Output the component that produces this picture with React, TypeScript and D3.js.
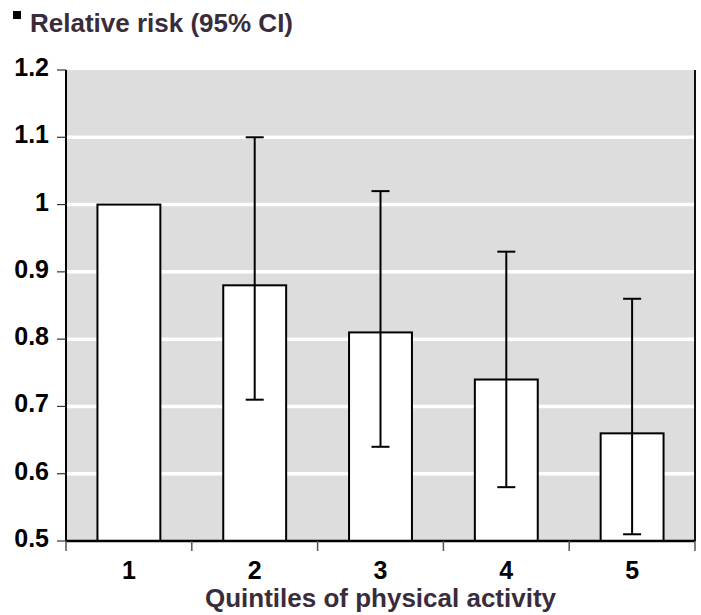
import React from "react";
import * as d3 from "d3";

const categories = ["1", "2", "3", "4", "5"];
const riskValues = [1.0, 0.88, 0.81, 0.74, 0.66];
const ciLower: (number | null)[] = [null, 0.71, 0.64, 0.58, 0.51];
const ciUpper: (number | null)[] = [null, 1.1, 1.02, 0.93, 0.86];
const yTicks = [0.5, 0.6, 0.7, 0.8, 0.9, 1, 1.1, 1.2];
const titleText = "Relative risk (95% CI)";
const xTitleText = "Quintiles of physical activity";

const W = 701;
const H = 615;
const left = 66;
const right = 695;
const top = 70;
const bottom = 541;
const FONT = "'Liberation Sans', Arial, Helvetica, sans-serif";
const TITLE_COLOR = "#3a2c3a";

export default function App() {
  const x = d3
    .scaleBand<string>()
    .domain(categories)
    .range([left, right])
    .paddingInner(0.5)
    .paddingOuter(0.25);
  const y = d3.scaleLinear().domain([0.5, 1.2]).range([bottom, top]);
  const step = x.step();
  const boundaries = categories.map((_, i) => left + step * (i + 1));
  const capW = 18;

  return (
    <svg
      width={W}
      height={H}
      style={{ position: "absolute", left: 0, top: 0, background: "#fff" }}
      fontFamily={FONT}
    >
      {/* title */}
      <rect x={13} y={11} width={8} height={8} fill="#000" />
      <text x={30} y={32} fontSize={26} fontWeight="bold" fill={TITLE_COLOR}>
        {titleText}
      </text>

      {/* plot background */}
      <rect x={left} y={top} width={right - left} height={bottom - top} fill="#dddddd" />

      {/* gridlines */}
      {yTicks
        .filter((t) => t > 0.5 && t < 1.2)
        .map((t) => (
          <line
            key={"g" + t}
            x1={left}
            x2={right}
            y1={y(t)}
            y2={y(t)}
            stroke="#fff"
            strokeWidth={3.5}
          />
        ))}

      {/* right border */}
      <line x1={right} x2={right} y1={top} y2={bottom} stroke="#111" strokeWidth={2} />

      {/* bars */}
      {categories.map((c, i) => (
        <rect
          key={"b" + c}
          x={x(c)!}
          y={y(riskValues[i])}
          width={x.bandwidth()}
          height={bottom - y(riskValues[i])}
          fill="#fff"
          stroke="#000"
          strokeWidth={2}
        />
      ))}

      {/* error bars */}
      {categories.map((c, i) => {
        const lo = ciLower[i];
        const hi = ciUpper[i];
        if (lo == null || hi == null) return null;
        const cx = x(c)! + x.bandwidth() / 2;
        return (
          <g key={"e" + c} stroke="#000" strokeWidth={2}>
            <line x1={cx} x2={cx} y1={y(hi)} y2={y(lo)} />
            <line x1={cx - capW / 2} x2={cx + capW / 2} y1={y(hi)} y2={y(hi)} />
            <line x1={cx - capW / 2} x2={cx + capW / 2} y1={y(lo)} y2={y(lo)} />
          </g>
        );
      })}

      {/* y axis */}
      <line x1={left} x2={left} y1={top} y2={bottom} stroke="#000" strokeWidth={2} />
      {yTicks.map((t) => (
        <g key={"yt" + t}>
          <line x1={left - 9} x2={left} y1={y(t)} y2={y(t)} stroke="#333" strokeWidth={1.2} />
          <text
            x={49}
            y={y(t) + 6}
            textAnchor="end"
            fontSize={25}
            fontWeight="bold"
            fill="#000"
          >
            {d3.format("~g")(t)}
          </text>
        </g>
      ))}

      {/* x axis */}
      <line x1={left} x2={right} y1={bottom} y2={bottom} stroke="#000" strokeWidth={2.5} />
      {[left, ...boundaries].map((bx, i) => (
        <line
          key={"xt" + i}
          x1={bx}
          x2={bx}
          y1={bottom}
          y2={bottom + 10}
          stroke="#555"
          strokeWidth={1.5}
        />
      ))}
      {categories.map((c) => (
        <text
          key={"xl" + c}
          x={x(c)! + x.bandwidth() / 2}
          y={579}
          textAnchor="middle"
          fontSize={25}
          fontWeight="bold"
          fill="#000"
        >
          {c}
        </text>
      ))}
      <text
        x={(left + right) / 2}
        y={607}
        textAnchor="middle"
        fontSize={26}
        fontWeight="bold"
        fill={TITLE_COLOR}
      >
        {xTitleText}
      </text>
    </svg>
  );
}
